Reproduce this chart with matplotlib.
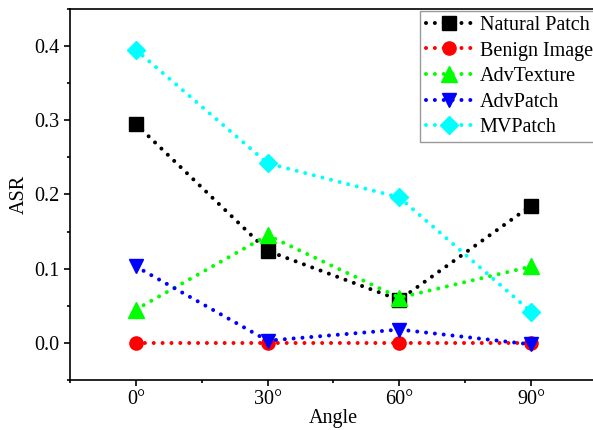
import numpy as np
import matplotlib
matplotlib.use('Agg')
from matplotlib import pyplot as plt
from matplotlib.ticker import MultipleLocator, FormatStrFormatter

plt.rcParams['font.family'] = ['Liberation Serif', 'DejaVu Serif']

angles = [0, 30, 60, 90]
angle_labels = ['0°', '30°', '60°', '90°']
natural = [0.295, 0.124, 0.058, 0.185]
benign = [0.0, 0.0, 0.0, 0.0]
advtexture = [0.045, 0.145, 0.061, 0.103]
advpatch = [0.103, 0.003, 0.018, -0.002]
mvpatch = [0.395, 0.242, 0.196, 0.042]

series = [
    ('Natural Patch', natural, 'black', 's', 9.5),
    ('Benign Image', benign, 'red', 'o', 9.5),
    ('AdvTexture', advtexture, '#00ff00', '^', 11),
    ('AdvPatch', advpatch, 'blue', 'v', 10.5),
    ('MVPatch', mvpatch, 'cyan', 'D', 8.7),
]

fig = plt.figure(figsize=(5.93, 4.3), dpi=100)
ax = fig.add_axes([70/593, 50/430, 527/593, 371/430])

for name, vals, col, mk, ms in series:
    ax.plot(angles, vals, linestyle=(0, (0.001, 2.2)), dash_capstyle='round',
            linewidth=2.9, color=col, marker=mk, markersize=ms, label=name)

ax.set_xlim(-15, 105)
ax.set_ylim(-0.05, 0.45)
ax.set_xticks(angles)
ax.set_xticklabels(angle_labels)
ax.xaxis.set_minor_locator(MultipleLocator(15))
ax.yaxis.set_major_locator(MultipleLocator(0.1))
ax.yaxis.set_minor_locator(MultipleLocator(0.05))
ax.yaxis.set_major_formatter(FormatStrFormatter('%.1f'))
ax.tick_params(which='major', direction='out', length=4, width=1.2, labelsize=14.5)
ax.tick_params(which='minor', direction='out', length=2.5, width=1.2)
for s in ax.spines.values():
    s.set_linewidth(1.2)

ax.set_xlabel('Angle', fontsize=14.5, labelpad=0)
ax.set_ylabel('ASR', fontsize=14.5, labelpad=4)

leg = ax.legend(loc='upper right', fontsize=14.5, fancybox=False, edgecolor='grey',
                handlelength=2.3, borderpad=0.25, labelspacing=0.32, handletextpad=0.4,
                borderaxespad=0, bbox_to_anchor=(1.002, 0.995))
leg.get_frame().set_linewidth(1.0)

fig.savefig('out.png', dpi=100)
